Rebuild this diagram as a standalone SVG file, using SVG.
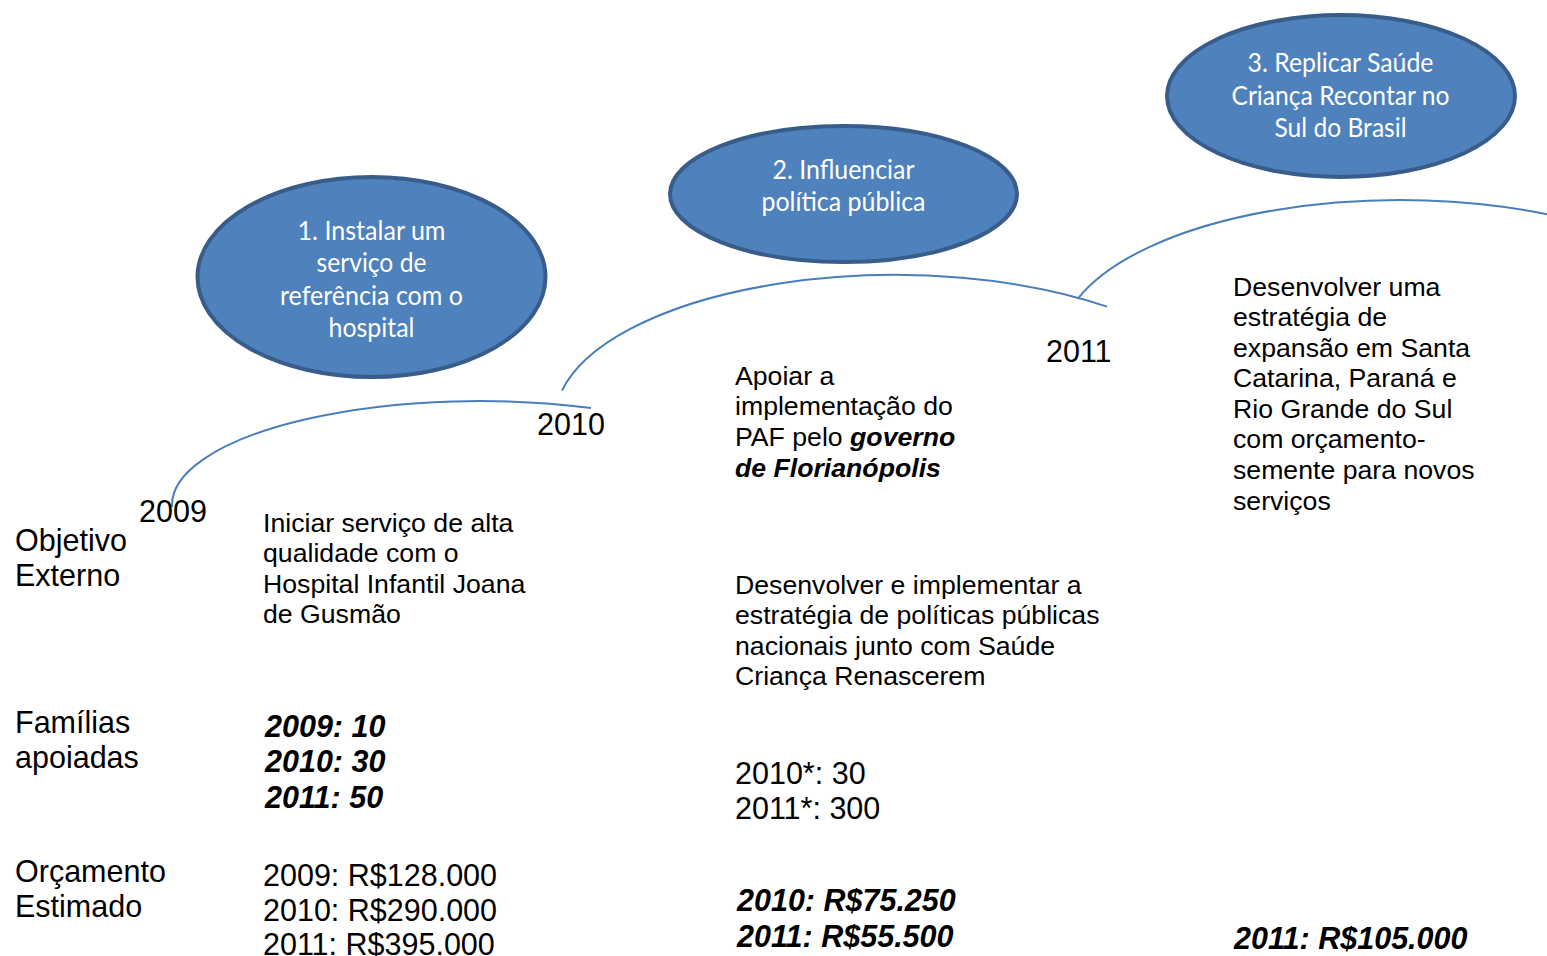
<svg xmlns="http://www.w3.org/2000/svg" width="1547" height="956" viewBox="0 0 1547 956">
<style>
.goal{fill:#4F81BD;stroke:#385D8A;stroke-width:4}
.gt{font-family:Lato,"Open Sans",sans-serif;font-size:26.67px;fill:#FFFFFF;text-anchor:middle}
.arc{fill:none;stroke:#4A7EBB;stroke-width:2}
.body{font-family:"Liberation Sans",Arial,sans-serif;font-size:26.67px;fill:#000000}
.big{font-family:"Liberation Sans",Arial,sans-serif;font-size:30.5px;fill:#000000}
.bi{font-weight:bold;font-style:italic}
</style>
<rect width="1547" height="956" fill="#FFFFFF"/>
<g id="connectors">
<path class="arc" d="M172,507 L172,505 A308,104 0 0,1 591,408"/>
<path class="arc" d="M562,390.6 A340,145 0 0,1 1107,306.6"/>
<path class="arc" d="M1078,298.5 A340,145 0 0,1 1560,217"/>
</g>
<g id="goal1">
<ellipse class="goal" cx="371.5" cy="277" rx="174" ry="100"/>
<text class="gt" x="371.5" y="239.5" textLength="148" lengthAdjust="spacingAndGlyphs">1. Instalar um</text>
<text class="gt" x="371.5" y="272" textLength="110" lengthAdjust="spacingAndGlyphs">serviço de</text>
<text class="gt" x="371.5" y="304.5" textLength="183" lengthAdjust="spacingAndGlyphs">referência com o</text>
<text class="gt" x="371.5" y="337" textLength="86" lengthAdjust="spacingAndGlyphs">hospital</text>
</g>
<g id="goal2">
<ellipse class="goal" cx="843.5" cy="194" rx="173.5" ry="68"/>
<text class="gt" x="843.5" y="178.5" textLength="142" lengthAdjust="spacingAndGlyphs">2. Influenciar</text>
<text class="gt" x="843.5" y="211" textLength="164" lengthAdjust="spacingAndGlyphs">política pública</text>
</g>
<g id="goal3">
<ellipse class="goal" cx="1341" cy="96" rx="174" ry="81"/>
<text class="gt" x="1340.5" y="72" textLength="186" lengthAdjust="spacingAndGlyphs">3. Replicar Saúde</text>
<text class="gt" x="1340.5" y="104.5" textLength="218" lengthAdjust="spacingAndGlyphs">Criança Recontar no</text>
<text class="gt" x="1340.5" y="137" textLength="132" lengthAdjust="spacingAndGlyphs">Sul do Brasil</text>
</g>
<g id="year2009"><text class="big" x="139" y="522">2009</text></g>
<g id="year2010"><text class="big" x="537" y="435">2010</text></g>
<g id="year2011"><text class="big" x="1046" y="361.5">2011</text></g>
<g id="label-objetivo">
<text class="big" x="15" y="551">Objetivo</text>
<text class="big" x="15" y="586">Externo</text>
</g>
<g id="label-familias">
<text class="big" x="15" y="733">Famílias</text>
<text class="big" x="15" y="768">apoiadas</text>
</g>
<g id="label-orcamento">
<text class="big" x="15" y="882">Orçamento</text>
<text class="big" x="15" y="917">Estimado</text>
</g>
<g id="obj2009">
<text class="body" x="263" y="531.5">Iniciar serviço de alta</text>
<text class="body" x="263" y="562">qualidade com o</text>
<text class="body" x="263" y="592.5">Hospital Infantil Joana</text>
<text class="body" x="263" y="623">de Gusmão</text>
</g>
<g id="obj2010a">
<text class="body" x="735" y="384.5">Apoiar a</text>
<text class="body" x="735" y="415">implementação do</text>
<text class="body" x="735" y="446">PAF pelo <tspan class="bi">governo</tspan></text>
<text class="body bi" x="735" y="477">de Florianópolis</text>
</g>
<g id="obj2010b">
<text class="body" x="735" y="593.5">Desenvolver e implementar a</text>
<text class="body" x="735" y="624">estratégia de políticas públicas</text>
<text class="body" x="735" y="654.5">nacionais junto com Saúde</text>
<text class="body" x="735" y="685">Criança Renascerem</text>
</g>
<g id="obj2011">
<text class="body" x="1233" y="295.5">Desenvolver uma</text>
<text class="body" x="1233" y="326">estratégia de</text>
<text class="body" x="1233" y="356.5">expansão em Santa</text>
<text class="body" x="1233" y="387">Catarina, Paraná e</text>
<text class="body" x="1233" y="417.5">Rio Grande do Sul</text>
<text class="body" x="1233" y="448">com orçamento-</text>
<text class="body" x="1233" y="479">semente para novos</text>
<text class="body" x="1233" y="509.5">serviços</text>
</g>
<g id="fam2009">
<text class="big bi" x="265" y="737">2009: 10</text>
<text class="big bi" x="265" y="772">2010: 30</text>
<text class="big bi" x="265" y="808">2011: 50</text>
</g>
<g id="fam2010">
<text class="big" x="735" y="784">2010*: 30</text>
<text class="big" x="735" y="819">2011*: 300</text>
</g>
<g id="orc2009">
<text class="big" x="263" y="886">2009: R$128.000</text>
<text class="big" x="263" y="921">2010: R$290.000</text>
<text class="big" x="263" y="955">2011: R$395.000</text>
</g>
<g id="orc2010">
<text class="big bi" x="737" y="911">2010: R$75.250</text>
<text class="big bi" x="737" y="947">2011: R$55.500</text>
</g>
<g id="orc2011">
<text class="big bi" x="1234" y="949">2011: R$105.000</text>
</g>
</svg>
